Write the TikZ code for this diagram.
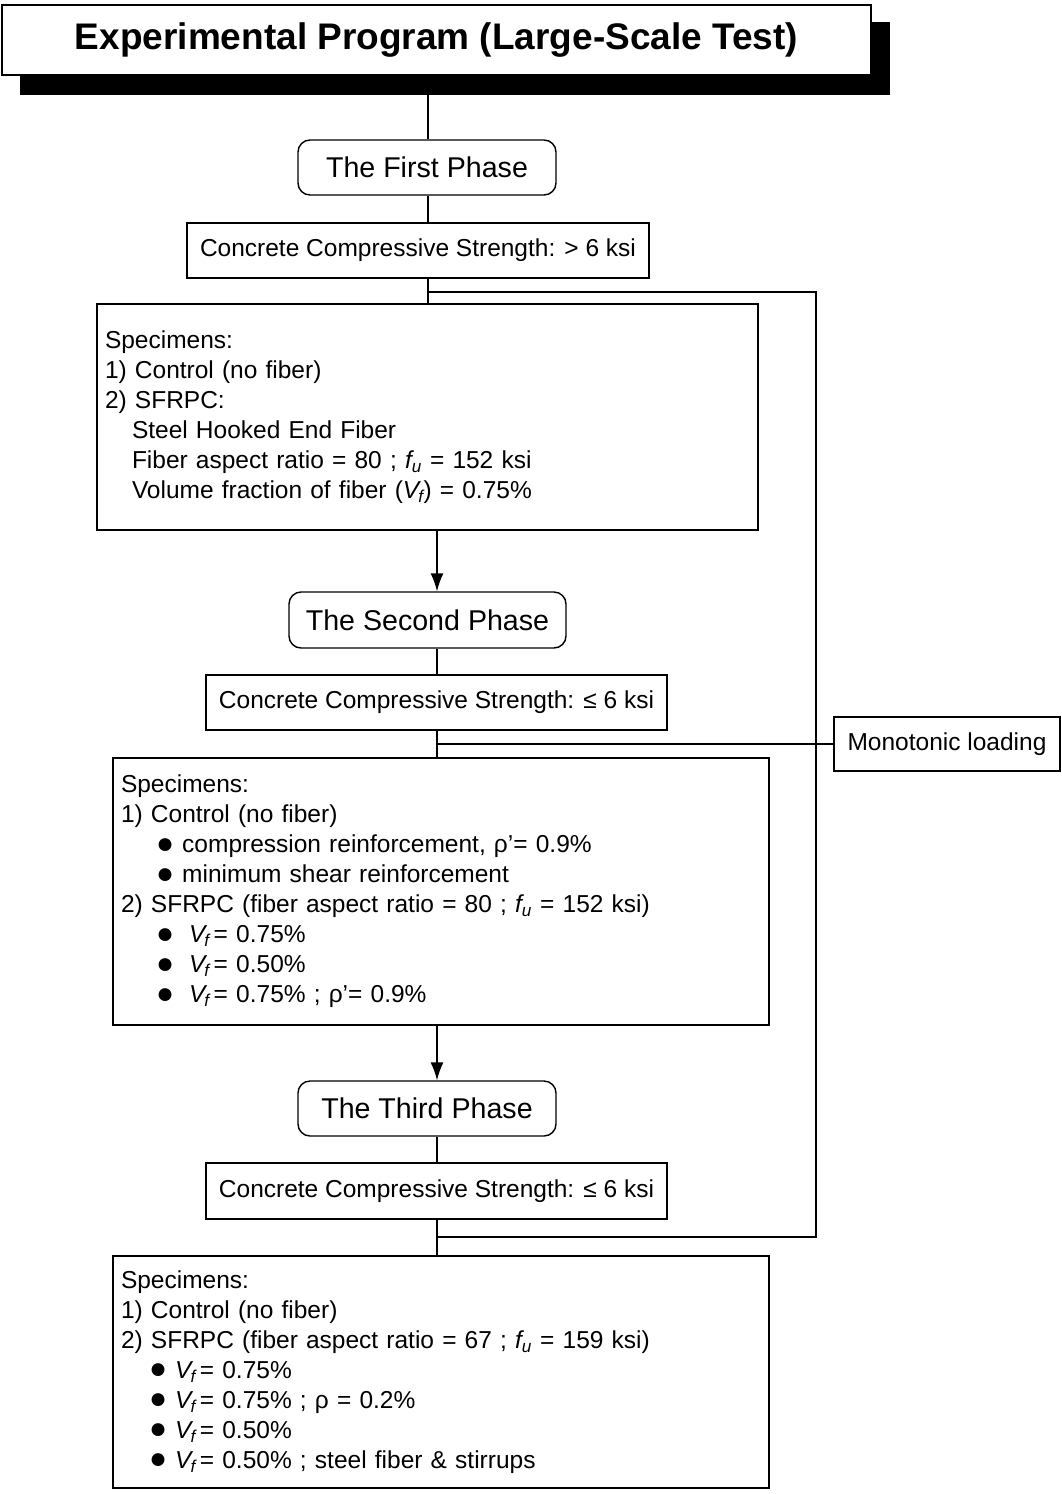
\documentclass[tikz,border=0pt]{standalone}
\usepackage{fontspec}
\setmainfont{Liberation Sans}
\usetikzlibrary{arrows.meta}
\newcommand{\fsbody}{\fontsize{24.5}{30}\selectfont}
\newcommand{\fsphase}{\fontsize{28.6}{34}\selectfont}
\newcommand{\fstitle}{\fontsize{37}{42}\selectfont\bfseries}
\newcommand{\blt}{\raisebox{-0.05ex}{\scalebox{1.22}{●}}}
\newcommand{\Vf}{{\itshape V}\kern-1pt\textsubscript{\itshape f}}
\newcommand{\fu}{{\itshape f}\textsubscript{\itshape u}}
\begin{document}
\begin{tikzpicture}[x=1pt, y=-1pt, line width=1.4pt, >={Latex[length=18pt,width=13pt]},
  box/.style={draw, rectangle, inner sep=0pt, font=\fsbody},
  phase/.style={draw, rectangle, rounded corners=12pt, inner sep=0pt, font=\fsphase},
  spec/.style={draw, rectangle, align=left, inner xsep=8pt, inner ysep=0pt, font=\fsbody}]

\useasboundingbox (0,0) rectangle (1061,1494);

\fill (20,22) rectangle (890,95);
\node[draw, fill=white, line width=2pt, minimum width=869pt, minimum height=70pt, inner sep=0pt, font=\fstitle] (title) at (436.5,40) {Experimental Program (Large-Scale Test)};

\node[phase, minimum width=258pt, minimum height=55pt] (p1) at (427,167.5) {The First Phase};
\node[box, minimum width=462pt, minimum height=55pt] (c1) at (418,250.5) {Concrete Compressive Strength: > 6 ksi};
\node[spec, text width=645pt, minimum height=226pt] (s1) at (427.5,417) {Specimens:\\
1) Control (no fiber)\\
2) SFRPC:\\
\hspace*{27pt}Steel Hooked End Fiber\\
\hspace*{27pt}Fiber aspect ratio = 80 ; \fu{} = 152 ksi\\
\hspace*{27pt}Volume fraction of fiber (\Vf) = 0.75\%};

\node[phase, minimum width=277pt, minimum height=56pt] (p2) at (427.5,620) {The Second Phase};
\node[box, minimum width=461pt, minimum height=55pt] (c2) at (436.5,702.5) {Concrete Compressive Strength: ≤ 6 ksi};
\node[spec, text width=640pt, minimum height=267pt] (s2) at (441,891.5) {Specimens:\\
1) Control (no fiber)\\
\hspace*{35pt}\blt{} compression reinforcement, ρ’= 0.9\%\\
\hspace*{35pt}\blt{} minimum shear reinforcement\\
2) SFRPC (fiber aspect ratio = 80 ; \fu{} = 152 ksi)\\
\hspace*{35pt}\blt\hspace{15pt}\Vf\,= 0.75\%\\
\hspace*{35pt}\blt\hspace{15pt}\Vf\,= 0.50\%\\
\hspace*{35pt}\blt\hspace{15pt}\Vf\,= 0.75\% ; ρ’= 0.9\%};

\node[box, minimum width=226pt, minimum height=54pt] (mono) at (947,744) {Monotonic loading};

\node[phase, minimum width=258pt, minimum height=55pt] (p3) at (427,1108.5) {The Third Phase};
\node[box, minimum width=461pt, minimum height=56pt] (c3) at (436.5,1191) {Concrete Compressive Strength: ≤ 6 ksi};
\node[spec, text width=640pt, minimum height=232pt] (s3) at (441,1372) {Specimens:\\
1) Control (no fiber)\\
2) SFRPC (fiber aspect ratio = 67 ; \fu{} = 159 ksi)\\
\hspace*{28pt}\blt{} \Vf\,= 0.75\%\\
\hspace*{28pt}\blt{} \Vf\,= 0.75\% ; ρ = 0.2\%\\
\hspace*{28pt}\blt{} \Vf\,= 0.50\%\\
\hspace*{28pt}\blt{} \Vf\,= 0.50\% ; steel fiber \& stirrups};

\coordinate (b1) at (428,292);
\coordinate (r1) at (816,292);
\coordinate (b2) at (437,744);
\coordinate (b3) at (437,1237);

\draw (title.south -| b1) -- (p1.north -| b1);
\draw (p1.south -| b1) -- (c1.north -| b1);
\draw (c1.south -| b1) -- (s1.north -| b1);
\draw[->] (s1.south -| b2) -- (p2.north -| b2);
\draw (p2.south -| b2) -- (c2.north -| b2);
\draw (c2.south -| b2) -- (s2.north -| b2);
\draw[->] (s2.south -| b2) -- (p3.north -| b2);
\draw (p3.south -| b2) -- (c3.north -| b2);
\draw (c3.south -| b2) -- (s3.north -| b2);

\draw (b1) -- (r1) |- (b3);
\draw (b2) -- (mono.west);

\end{tikzpicture}
\end{document}
